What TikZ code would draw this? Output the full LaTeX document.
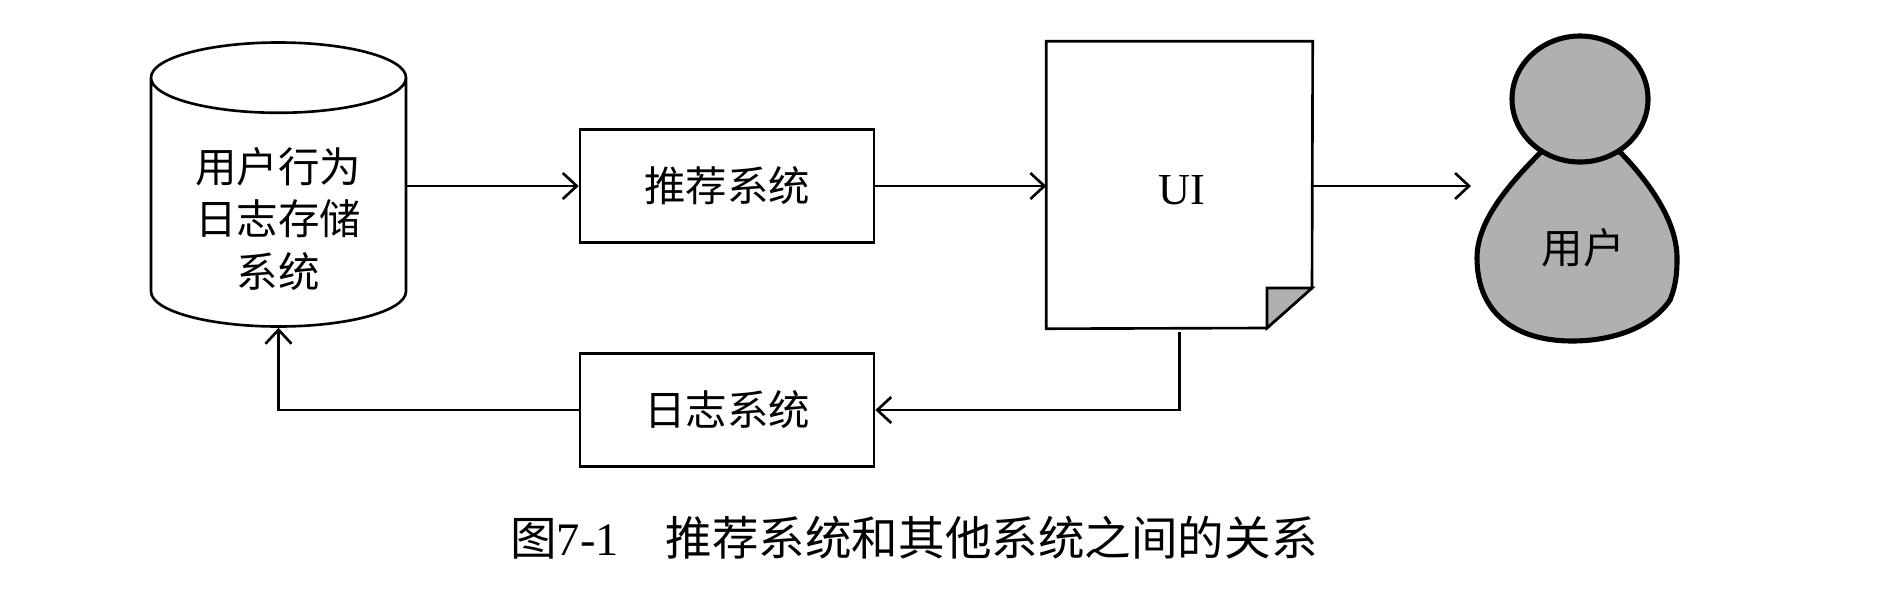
\documentclass[tikz,border=0pt]{standalone}
\usepackage{fontspec}
\setmainfont{Liberation Serif}
\newfontfamily\cjk{Noto Sans CJK SC}
\usepackage{xcolor}
\usetikzlibrary{shapes.geometric, arrows.meta, positioning, calc}
\definecolor{usergray}{RGB}{176, 176, 177}

\begin{document}
\begin{tikzpicture}[
          linebox/.style={rectangle, draw=black, line width=0.75pt, fill=white, minimum width=2.94cm, minimum height=1.13cm, align=center, font=\cjk\fontsize{11.8}{15}\selectfont},
          labeltext/.style={align=center, font=\cjk\fontsize{11.8}{15}\selectfont},
          flow/.style={-{Straight Barb[length=1.4mm, width=2.6mm]}, line width=0.75pt, black},
          userpart/.style={draw=black, line width=1.45pt, fill=usergray}
        ]
          \useasboundingbox (0, 0) rectangle (18.82, 5.88);

          % Log store
          \node[cylinder, shape border rotate=90, draw=black, line width=0.75pt, fill=white, aspect=3, minimum width=2.55cm, minimum height=2.84cm, anchor=shape center] (logstore) at (2.785, 4.035) {};
          \node[labeltext] (logstorelabel) at (2.78, 3.69) {用户行为\\日志存储\\系统};

          % Systems
          \node[linebox] (recsys) at (7.27, 4.02) {推荐系统};
          \node[linebox] (logsys) at (7.27, 1.78) {日志系统};

          % UI page
          \node[rectangle, minimum width=2.65cm, minimum height=2.86cm] (uidoc) at (11.795, 4.03) {};
          \draw[line width=0.75pt, fill=white] (uidoc.north west) -- (uidoc.north east) -- (13.12, 3.0) -- (12.67, 2.6) -- (uidoc.south west) -- cycle;
          \draw[line width=0.75pt, fill=usergray] (12.67, 3.0) -- (13.12, 3.0) -- (12.67, 2.6) -- cycle;
          \node[font=\fontsize{12.6}{15}\selectfont] (uilabel) at (11.82, 3.98) {UI};

          % User
          \draw[userpart] (15.41, 4.36) .. controls (15.05, 4.0) and (14.77, 3.65) .. (14.77, 3.30) .. controls (14.77, 2.75) and (15.15, 2.47) .. (15.72, 2.47) .. controls (16.2, 2.47) and (16.55, 2.65) .. (16.70, 2.88) .. controls (16.77, 3.05) and (16.77, 3.2) .. (16.77, 3.30) .. controls (16.77, 3.65) and (16.52, 4.03) .. (16.20, 4.36) -- cycle;
          \node[ellipse, userpart, minimum width=1.36cm, minimum height=1.26cm] (userhead) at (15.80, 4.89) {};
          \node[labeltext] (userlabel) at (15.83, 3.40) {用户};
          \coordinate (usertip) at (14.71, 4.02);

          % Caption
          \node[font=\cjk\fontsize{13.25}{16}\selectfont] (caption) at (9.14, 0.50) {图{\rmfamily 7-1}　推荐系统和其他系统之间的关系};

          % Connections
          \draw[flow] (logstore.east |- recsys.west) -- (recsys.west);
          \draw[flow] (recsys.east) -- (recsys.east -| uidoc.west);
          \draw[flow] (uidoc.east |- usertip) -- (usertip);
          \draw[flow] ([yshift=-0.03cm]uidoc.south) |- (logsys.east);
          \draw[flow] (logsys.west) -| (logstore.south);
        \end{tikzpicture}
\end{document}
